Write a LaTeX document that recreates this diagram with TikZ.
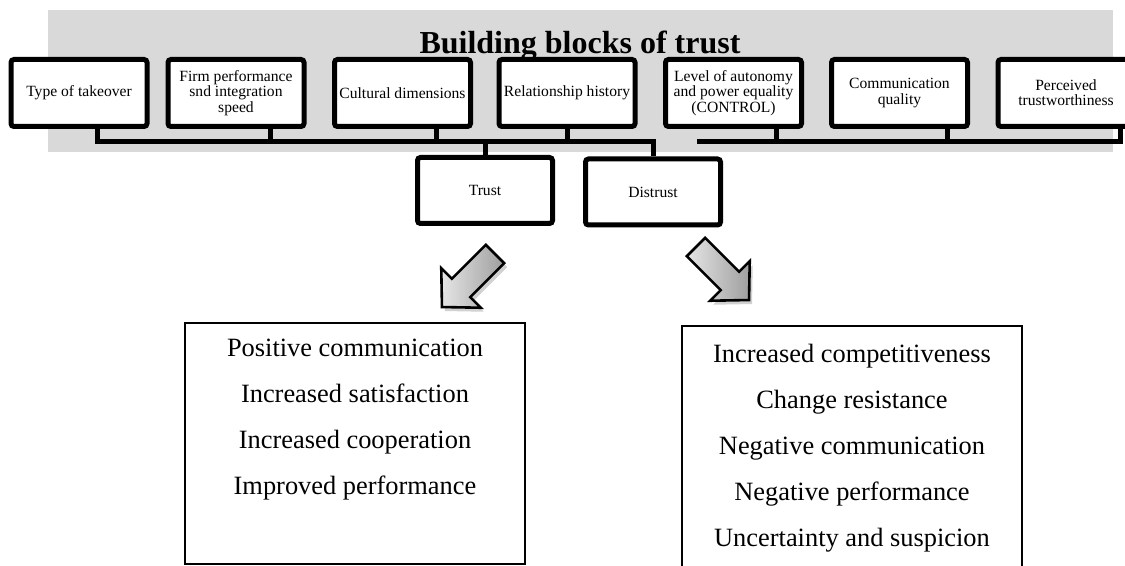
\documentclass[tikz,border=0pt]{standalone}
\usepackage{fontspec}
\setmainfont{Liberation Serif}
\usetikzlibrary{positioning}

\begin{document}
\begin{tikzpicture}[x=0.5pt,y=-0.5pt]

  \tikzstyle{block}=[rectangle,draw=black,fill=white,line width=2.5pt,
    rounded corners=1.5pt,align=center,inner sep=1pt,
    minimum width=68pt,minimum height=33.5pt,
    font=\fontsize{7.8}{7.6}\selectfont]

  \tikzstyle{verdict}=[block,minimum width=67.5pt,minimum height=33pt]

  \tikzstyle{outcome}=[rectangle,draw=black,fill=white,line width=1.2pt,
    minimum width=169.8pt]

  \tikzstyle{effects}=[align=center,inner sep=0pt,
    font=\fontsize{13.2}{23}\selectfont]

  \tikzstyle{bus}=[line width=2.5pt]
  \tikzstyle{bigarrow}=[draw=black,line width=1.3pt,line join=miter,
    left color=black!10,right color=black!38]
  \tikzstyle{arrowshade}=[fill=black,opacity=0.18]

  \useasboundingbox (0,0) rectangle (1125,566);
  \clip (0,0) rectangle (1125,566);

  %% \draw [help lines] (0,0) grid (1125,566);

  \fill [black!15] (48,10) rectangle (1113,152);

  \node  (title)    at (580,54)    [anchor=base,font=\fontsize{16}{18}\selectfont\bfseries]
         {Building blocks of trust};

  \node  (type)     at (79,93)     [block] {Type of takeover};
  \node  (firm)     at (236,93)    [block] {Firm performance\\snd integration\\speed};
  \node  (culture)  at (402.5,93)  [block] {Cultural dimensions};
  \node  (history)  at (567,93)    [block] {Relationship history};
  \node  (control)  at (733.5,93)  [block] {Level of autonomy\\and power equality\\(CONTROL)};
  \node  (comm)     at (899.5,93)  [block] {Communication\\quality};
  \node  (worthy)   at (1066,93)   [block] {Perceived\\trustworthiness};

  \node  (trust)    at (485,190.5) [verdict] {Trust};
  \node  (distrust) at (653,192)   [verdict] {Distrust};

  \coordinate (hub)  at (567,142);
  \coordinate (busR) at (697,142);

  \draw [bus] ([xshift=9pt]type.south) |- (trust.north |- hub)
              ([xshift=17pt]firm.south) -- +(0,13.5)
              ([xshift=16.75pt]culture.south) -- +(0,13.5);

  \draw [bus] (history.south) -- (hub);
  \draw [bus] (trust.north) |- (hub) -| (distrust.north);

  \draw [bus] (busR) -| ([xshift=27pt]worthy.south)
              ([xshift=21.25pt]control.south) -- +(0,13.5)
              ([xshift=23.75pt]comm.south) -- +(0,13.5);

  % soft shadows first, then the two fat arrows on top
  \begin{scope}[shift={(498,258)},rotate=225]
    \fill [arrowshade] (0,-13) -- (48,-13) -- (48,-28) -- (75,0)
                       -- (48,28) -- (48,13) -- (0,13) -- cycle;
  \end{scope}
  \begin{scope}[shift={(699,251)},rotate=-45]
    \fill [arrowshade] (0,-13) -- (48,-13) -- (48,-28) -- (75,0)
                       -- (48,28) -- (48,13) -- (0,13) -- cycle;
  \end{scope}

  \begin{scope}[shift={(495,254)},rotate=225]
    \path [bigarrow] (0,-13) -- (48,-13) -- (48,-28) -- (75,0)
                     -- (48,28) -- (48,13) -- (0,13) -- cycle;
  \end{scope}

  \begin{scope}[shift={(696,247)},rotate=-45]
    \path [bigarrow] (0,-13) -- (48,-13) -- (48,-28) -- (75,0)
                     -- (48,28) -- (48,13) -- (0,13) -- cycle;
  \end{scope}

  \node  (upside)   at (355,443.5) [outcome,minimum height=120.3pt] {};
  \node  (downside) at (852,450)   [outcome,minimum height=123.8pt] {};

  \node  (pluses)   [effects,below=8.5pt of upside.north]
         {Positive communication\\Increased satisfaction\\
          Increased cooperation\\Improved performance};

  \node  (minuses)  [effects,below=9.5pt of downside.north]
         {Increased competitiveness\\Change resistance\\
          Negative communication\\Negative performance\\
          Uncertainty and suspicion};

\end{tikzpicture}
\end{document}
